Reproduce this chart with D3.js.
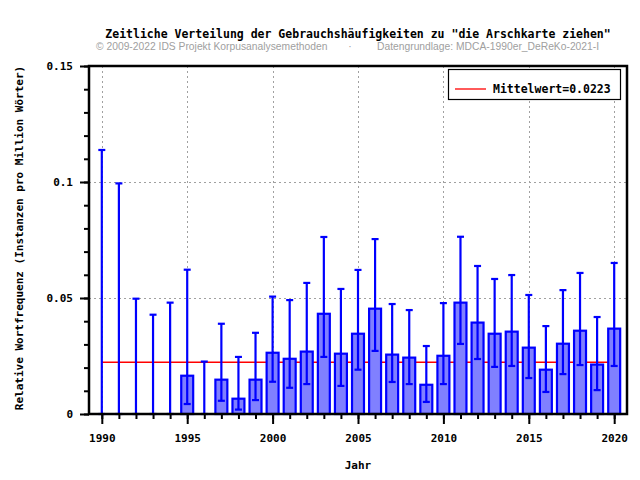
<!DOCTYPE html>
<html><head><meta charset="utf-8">
<script src="https://cdn.jsdelivr.net/npm/d3@7"></script>
<style>
body{margin:0;background:#fff;}
svg{display:block;}
.mono{font-family:"DejaVu Sans Mono","Liberation Mono",monospace;font-weight:bold;}
</style></head>
<body>
<svg id="chart" width="640" height="480"></svg>
<script>
const years = [1990,1991,1992,1993,1994,1995,1996,1997,1998,1999,2000,2001,2002,2003,2004,2005,2006,2007,2008,2009,2010,2011,2012,2013,2014,2015,2016,2017,2018,2019,2020];
const values = [0,0,0,0,0,0.0165,0,0.0148,0.0066,0.0148,0.0264,0.0238,0.0269,0.0432,0.0260,0.0346,0.0454,0.0256,0.0243,0.0126,0.0251,0.0480,0.0394,0.0346,0.0355,0.0286,0.0191,0.0303,0.0359,0.0213,0.0368];
const upper = [0.1138,0.0994,0.0497,0.0428,0.0480,0.0622,0.0226,0.0389,0.0246,0.0350,0.0506,0.0491,0.0565,0.0763,0.0539,0.0621,0.0754,0.0474,0.0448,0.0293,0.0478,0.0764,0.0638,0.0582,0.0599,0.0513,0.0379,0.0534,0.0608,0.0418,0.0651];
const lower = [0,0,0,0,0,0.0043,0,0.0057,0.0019,0.0060,0.0139,0.0113,0.0129,0.0246,0.0121,0.0191,0.0272,0.0138,0.0129,0.0052,0.0129,0.0302,0.0237,0.0203,0.0207,0.0155,0.0095,0.0172,0.0211,0.0103,0.0207];
const meanValue = 0.0223;
const xMajorTicks = [1990,1995,2000,2005,2010,2015,2020];
const yMajorTicks = [0,0.05,0.1,0.15];
const yTickLabels = ["0","0.05","0.1","0.15"];
const yMinorTicks = d3.range(0,16).map(i=>i/100);
const title = 'Zeitliche Verteilung der Gebrauchshäufigkeiten zu "die Arschkarte ziehen"';
const subLeft = "© 2009-2022 IDS Projekt Korpusanalysemethoden";
const subRight = "Datengrundlage: MDCA-1990er_DeReKo-2021-I";
const legendLabel = "Mittelwert=0.0223";

const svg = d3.select("#chart");
const L=89,R=627,T=66,B=414;
const x = d3.scaleLinear().domain([1989.25,2020.75]).range([L,R]);
const y = d3.scaleLinear().domain([0,0.15]).range([B,T]);

// title
svg.append("text").attr("class","mono").attr("x",358).attr("y",38).attr("text-anchor","middle")
  .attr("font-size","11.5px").attr("fill","#000").text(title);
const subG = svg.append("g").attr("font-family","'Liberation Sans',Arial,sans-serif").attr("font-size","10.3px").attr("fill","#a0a0a0");
subG.append("text").attr("x",96).attr("y",50).text(subLeft);
subG.append("text").attr("x",350).attr("y",50).attr("text-anchor","middle").text("·");
subG.append("text").attr("x",377).attr("y",50).text(subRight);

// grid
const grid = svg.append("g").attr("stroke","#a0a0a0").attr("stroke-width",1).attr("stroke-dasharray","2,3");
xMajorTicks.forEach(t=>grid.append("line").attr("x1",Math.round(x(t))+0.5).attr("x2",Math.round(x(t))+0.5).attr("y1",T).attr("y2",B));
yMajorTicks.slice(1).forEach(t=>grid.append("line").attr("x1",L).attr("x2",R).attr("y1",Math.round(y(t))+0.5).attr("y2",Math.round(y(t))+0.5));

// mean line
svg.append("line").attr("x1",x(1990)).attr("x2",x(2020)).attr("y1",y(meanValue)).attr("y2",y(meanValue))
  .attr("stroke","#ff0000").attr("stroke-width",1.3);

// bars
const bw = x(1990.35)-x(1989.65);
svg.append("g").selectAll("rect").data(years.map((d,i)=>({year:d,v:values[i]})).filter(d=>d.v>0)).join("rect")
  .attr("x",d=>x(d.year)-bw/2).attr("y",d=>y(d.v)).attr("width",bw).attr("height",d=>y(0)-y(d.v))
  .attr("fill","#8080ff").attr("stroke","#0000ff").attr("stroke-width",2.2);

// error bars
const eg = svg.append("g").attr("stroke","#0000ff").attr("stroke-width",2.2);
years.forEach((yr,i)=>{
  const cx = x(yr);
  eg.append("line").attr("x1",cx).attr("x2",cx).attr("y1",y(lower[i])).attr("y2",y(upper[i]));
  eg.append("line").attr("x1",cx-3.5).attr("x2",cx+3.5).attr("y1",y(upper[i])).attr("y2",y(upper[i]));
  eg.append("line").attr("x1",cx-3.5).attr("x2",cx+3.5).attr("y1",y(lower[i])).attr("y2",y(lower[i]));
});

// axes
const xMinor = d3.axisBottom(x).tickValues(years).tickSize(5).tickFormat("");
const xMajor = d3.axisBottom(x).tickValues(xMajorTicks).tickSize(10).tickPadding(10).tickFormat(d3.format("d"));
const yMinor = d3.axisLeft(y).tickValues(yMinorTicks).tickSize(5).tickFormat("");
const yMajor = d3.axisLeft(y).tickValues(yMajorTicks).tickSize(9).tickPadding(7).tickFormat((d,i)=>yTickLabels[i]);
function style(g){ g.select(".domain").remove(); g.selectAll("line").attr("stroke","#000").attr("stroke-width",2);
  g.selectAll("text").attr("class","mono").attr("font-size","11px").attr("fill","#000"); }
svg.append("g").attr("transform",`translate(0,${B})`).call(xMinor).call(style);
svg.append("g").attr("transform",`translate(0,${B})`).call(xMajor).call(style);
svg.append("g").attr("transform",`translate(${L},0)`).call(yMinor).call(style);
svg.append("g").attr("transform",`translate(${L},0)`).call(yMajor).call(style);

// frame
svg.append("rect").attr("x",L).attr("y",T).attr("width",R-L).attr("height",B-T)
  .attr("fill","none").attr("stroke","#000").attr("stroke-width",2.5);

// axis labels
svg.append("text").attr("class","mono").attr("x",358).attr("y",469).attr("text-anchor","middle").attr("font-size","11px").text("Jahr");
svg.append("text").attr("class","mono").attr("transform","translate(23,238) rotate(-90)").attr("text-anchor","middle")
  .attr("font-size","11px").text("Relative Wortfrequenz (Instanzen pro Million Wörter)");

// legend
const lg = svg.append("g");
lg.append("rect").attr("x",448.5).attr("y",69.5).attr("width",172).attr("height",30).attr("fill","#fff").attr("stroke","#000").attr("stroke-width",1.2);
lg.append("line").attr("x1",455).attr("x2",486).attr("y1",89).attr("y2",89).attr("stroke","#ff0000").attr("stroke-width",1.3);
lg.append("text").attr("class","mono").attr("x",493).attr("y",93).attr("font-size","11.5px").text(legendLabel);
</script>
</body></html>
